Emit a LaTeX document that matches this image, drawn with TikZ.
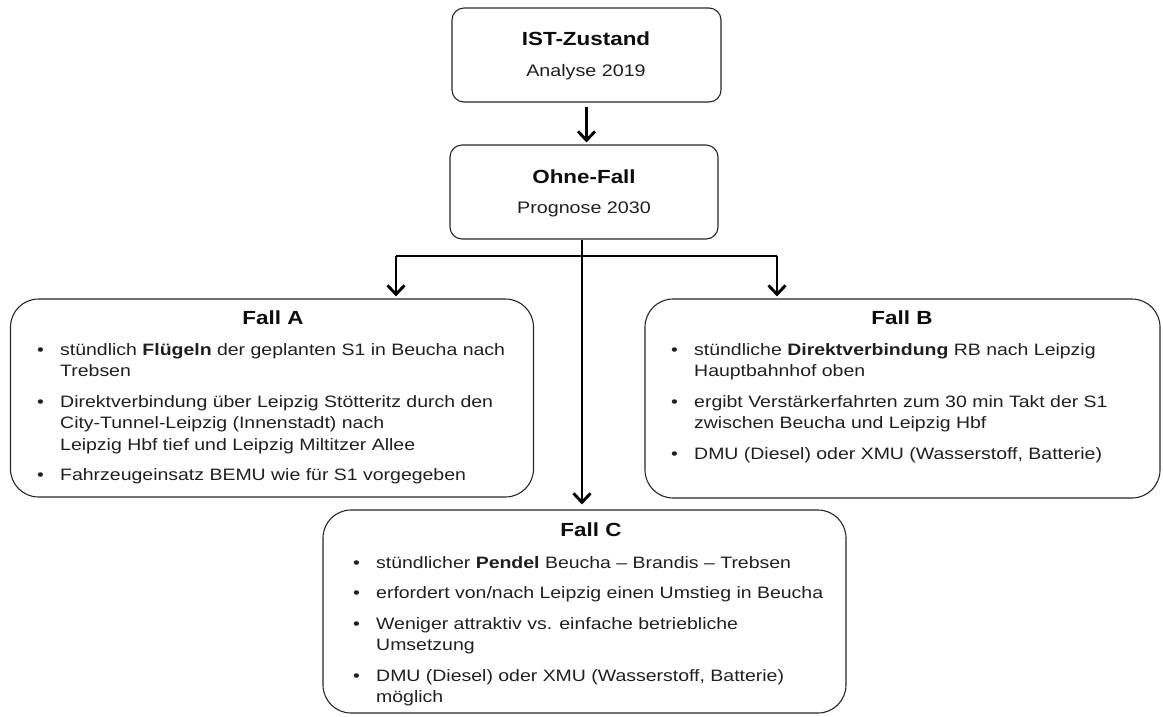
\documentclass[tikz,border=0pt]{standalone}
\usepackage{fontspec}
\setmainfont{Liberation Sans}[FakeStretch=1.18]
\usetikzlibrary{arrows.meta}
\newcommand{\bitem}[1]{\par\hangindent=23pt\hangafter=1\noindent\makebox[23pt][l]{\textbullet}#1}
\newcommand{\bgap}{\par\vspace{9pt}}
\tikzset{
  box/.style={draw=black!85, line width=1.1pt, rounded corners=12pt, inner sep=0pt},
  fallbox/.style={draw=black!85, line width=1.1pt, rounded corners=28pt, inner sep=0pt},
  arr/.style={line width=2.9pt, -{Straight Barb[length=9pt,width=17pt,line width=2.9pt]}},
  ln/.style={line width=2.9pt},
  ttl/.style={font=\fontsize{19}{24}\selectfont\bfseries, text=black!95, inner sep=0pt},
  sub/.style={font=\fontsize{16.7}{21}\selectfont, text=black!88, inner sep=0pt},
  body/.style={font=\fontsize{16.5}{21.5}\selectfont, text=black!88, anchor=north west, inner sep=0pt}
}
\begin{document}
\begin{tikzpicture}[x=1pt,y=-1pt]
\useasboundingbox (0,0) rectangle (1163,716);
% boxes
\node[box, minimum width=269pt, minimum height=94pt] (ist) at (586.5,55) {};
\node[box, minimum width=268pt, minimum height=94pt] (ohne) at (584,192) {};
\node[fallbox, minimum width=523pt, minimum height=198pt] (fallA) at (272,398) {};
\node[fallbox, minimum width=515pt, minimum height=199pt] (fallB) at (902.5,398.5) {};
\node[fallbox, minimum width=523pt, minimum height=203pt] (fallC) at (584.5,611.5) {};
% titles
\node[ttl] (istT) at (586,39) {IST-Zustand};
\node[sub] (istS) at (586,72) {Analyse 2019};
\node[ttl] (ohneT) at (584,177) {Ohne-Fall};
\node[sub] (ohneS) at (584,209) {Prognose 2030};
\node[ttl] (aT) at (273,318) {Fall A};
\node[ttl] (bT) at (902,318) {Fall B};
\node[ttl] (cT) at (591,530) {Fall C};
% bodies
\node[body] (aB) at (37,343) {\parbox{495pt}{\raggedright
\bitem{stündlich \textbf{Flügeln} der geplanten S1 in Beucha nach\newline Trebsen}\bgap
\bitem{Direktverbindung über Leipzig Stötteritz durch den\newline City-Tunnel-Leipzig (Innenstadt) nach\newline Leipzig Hbf tief und Leipzig Miltitzer Allee}\bgap
\bitem{Fahrzeugeinsatz BEMU wie für S1 vorgegeben}}};
\node[body] (bB) at (671,343) {\parbox{485pt}{\raggedright
\bitem{stündliche \textbf{Direktverbindung} RB nach Leipzig\newline Hauptbahnhof oben}\bgap
\bitem{ergibt Verstärkerfahrten zum 30 min Takt der S1\newline zwischen Beucha und Leipzig Hbf}\bgap
\bitem{DMU (Diesel) oder XMU (Wasserstoff, Batterie)}}};
\node[body] (cB) at (353,556) {\parbox{485pt}{\raggedright
\bitem{stündlicher \textbf{Pendel} Beucha – Brandis – Trebsen}\bgap
\bitem{erfordert von/nach Leipzig einen Umstieg in Beucha}\bgap
\bitem{Weniger attraktiv vs. einfache betriebliche\newline Umsetzung}\bgap
\bitem{DMU (Diesel) oder XMU (Wasserstoff, Batterie)\newline möglich}}};
% connectors
\coordinate (jA) at (396,256);
\coordinate (jB) at (777,256);
\coordinate (jC) at (582,256);
\draw[arr, shorten <=4pt, shorten >=2pt] (ist.south) -- (ist.south |- ohne.north);
\draw[ln] (jC |- ohne.south) -- (jC);
\draw[ln] (jA) -- (jB);
\draw[arr, shorten >=2pt] (jA) -- (jA |- fallA.north);
\draw[arr, shorten >=2pt] (jB) -- (jB |- fallB.north);
\draw[arr, shorten >=5pt] (jC) -- (jC |- fallC.north);
\end{tikzpicture}
\end{document}
